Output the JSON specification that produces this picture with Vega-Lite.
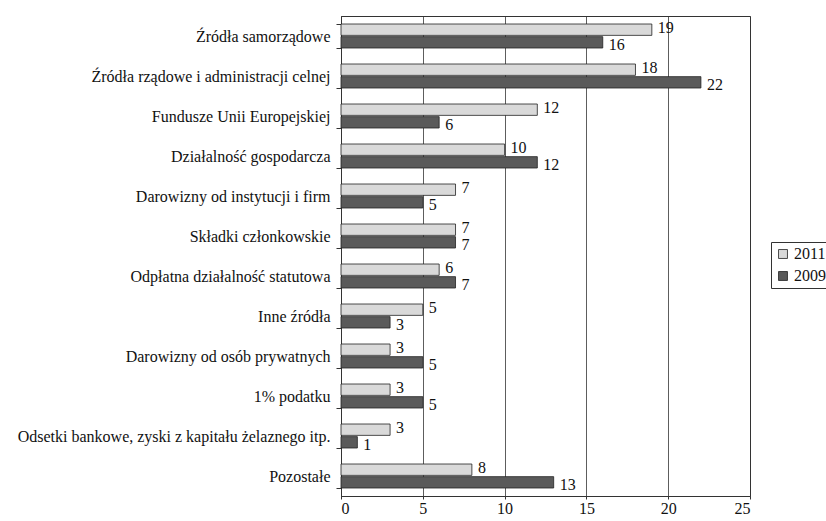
{
  "$schema": "https://vega.github.io/schema/vega-lite/v6.json",
  "width": 409,
  "height": 480,
  "autosize": "none",
  "padding": {"left": 341, "top": 16, "right": 76, "bottom": 25},
  "background": "white",
  "config": {
    "font": "'Liberation Serif', 'DejaVu Serif', serif",
    "axis": {"labelFont": "'Liberation Serif', 'DejaVu Serif', serif"},
    "legend": {"labelFont": "'Liberation Serif', 'DejaVu Serif', serif"},
    "text": {"font": "'Liberation Serif', 'DejaVu Serif', serif"},
    "view": {"stroke": "#333333", "strokeWidth": 1}
  },
  "data": {
    "values": [
      {"kategoria": "Źródła samorządowe", "rok": "2011", "wartosc": 19},
      {"kategoria": "Źródła samorządowe", "rok": "2009", "wartosc": 16},
      {"kategoria": "Źródła rządowe i administracji celnej", "rok": "2011", "wartosc": 18},
      {"kategoria": "Źródła rządowe i administracji celnej", "rok": "2009", "wartosc": 22},
      {"kategoria": "Fundusze Unii Europejskiej", "rok": "2011", "wartosc": 12},
      {"kategoria": "Fundusze Unii Europejskiej", "rok": "2009", "wartosc": 6},
      {"kategoria": "Działalność gospodarcza", "rok": "2011", "wartosc": 10},
      {"kategoria": "Działalność gospodarcza", "rok": "2009", "wartosc": 12},
      {"kategoria": "Darowizny od instytucji i firm", "rok": "2011", "wartosc": 7},
      {"kategoria": "Darowizny od instytucji i firm", "rok": "2009", "wartosc": 5},
      {"kategoria": "Składki członkowskie", "rok": "2011", "wartosc": 7},
      {"kategoria": "Składki członkowskie", "rok": "2009", "wartosc": 7},
      {"kategoria": "Odpłatna działalność statutowa", "rok": "2011", "wartosc": 6},
      {"kategoria": "Odpłatna działalność statutowa", "rok": "2009", "wartosc": 7},
      {"kategoria": "Inne źródła", "rok": "2011", "wartosc": 5},
      {"kategoria": "Inne źródła", "rok": "2009", "wartosc": 3},
      {"kategoria": "Darowizny od osób prywatnych", "rok": "2011", "wartosc": 3},
      {"kategoria": "Darowizny od osób prywatnych", "rok": "2009", "wartosc": 5},
      {"kategoria": "1% podatku", "rok": "2011", "wartosc": 3},
      {"kategoria": "1% podatku", "rok": "2009", "wartosc": 5},
      {"kategoria": "Odsetki bankowe, zyski z kapitału żelaznego itp.", "rok": "2011", "wartosc": 3},
      {"kategoria": "Odsetki bankowe, zyski z kapitału żelaznego itp.", "rok": "2009", "wartosc": 1},
      {"kategoria": "Pozostałe", "rok": "2011", "wartosc": 8},
      {"kategoria": "Pozostałe", "rok": "2009", "wartosc": 13}
    ]
  },
  "encoding": {
    "y": {
      "field": "kategoria",
      "type": "nominal",
      "sort": null,
      "title": null,
      "scale": {"paddingInner": 0.4, "paddingOuter": 0.2},
      "axis": {
        "labelFontSize": 16,
        "labelColor": "#111111",
        "labelLimit": 400,
        "labelPadding": 6,
        "tickBand": "extent",
        "tickSize": 5,
        "tickColor": "#333333",
        "domainColor": "#333333",
        "grid": false
      }
    },
    "yOffset": {
      "field": "rok",
      "type": "nominal",
      "sort": ["2011", "2009"],
      "scale": {"paddingInner": 0.1}
    },
    "x": {
      "field": "wartosc",
      "type": "quantitative",
      "title": null,
      "scale": {"domain": [0, 25], "nice": false},
      "axis": {
        "values": [0, 5, 10, 15, 20, 25],
        "labelFontSize": 16,
        "labelColor": "#111111",
        "labelPadding": 1,
        "tickSize": 3,
        "tickColor": "#333333",
        "domainColor": "#333333",
        "grid": true,
        "gridColor": "#333333",
        "gridWidth": 0.8
      }
    }
  },
  "layer": [
    {
      "mark": {"type": "bar", "stroke": "#222222", "strokeWidth": 0.8},
      "encoding": {
        "color": {
          "field": "rok",
          "type": "nominal",
          "sort": ["2011", "2009"],
          "scale": {"domain": ["2011", "2009"], "range": ["#d9d9d9", "#5a5a5a"]},
          "legend": {
            "title": null,
            "orient": "none",
            "legendX": 430,
            "legendY": 226,
            "symbolType": "square",
            "symbolSize": 80,
            "symbolStrokeColor": "#222222",
            "symbolStrokeWidth": 0.8,
            "labelFontSize": 16,
            "labelOffset": 3,
            "labelColor": "#111111",
            "strokeColor": "#333333",
            "padding": 4,
            "rowPadding": 6,
            "fillColor": "white"
          }
        }
      }
    },
    {
      "transform": [{"filter": "datum.rok === '2011'"}],
      "mark": {"type": "text", "align": "left", "baseline": "middle", "dx": 6, "dy": -2, "fontSize": 16, "color": "#111111"},
      "encoding": {
        "text": {"field": "wartosc", "type": "quantitative"}
      }
    },
    {
      "transform": [{"filter": "datum.rok === '2009'"}],
      "mark": {"type": "text", "align": "left", "baseline": "middle", "dx": 6, "dy": 3, "fontSize": 16, "color": "#111111"},
      "encoding": {
        "text": {"field": "wartosc", "type": "quantitative"}
      }
    }
  ]
}
